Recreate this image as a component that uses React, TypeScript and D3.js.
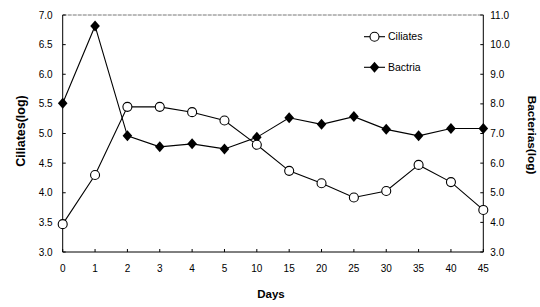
import React from "react";
import * as d3 from "d3";

const days = ["0", "1", "2", "3", "4", "5", "10", "15", "20", "25", "30", "35", "40", "45"];
const ciliates = [3.47, 4.3, 5.45, 5.45, 5.36, 5.22, 4.81, 4.37, 4.16, 3.92, 4.03, 4.47, 4.18, 3.71];
const bacteria = [8.02, 10.63, 6.92, 6.55, 6.65, 6.48, 6.87, 7.53, 7.31, 7.57, 7.14, 6.92, 7.17, 7.17];
const leftTicks = [3.0, 3.5, 4.0, 4.5, 5.0, 5.5, 6.0, 6.5, 7.0];
const rightTicks = [3.0, 4.0, 5.0, 6.0, 7.0, 8.0, 9.0, 10.0, 11.0];

const W = 540, H = 307;
const L = 62.7, R = 483.3, T = 15, B = 252;
const font = "'Liberation Sans', Arial, sans-serif";

export default function App() {
  const x = d3.scalePoint<string>().domain(days).range([L, R]).padding(0);
  const yL = d3.scaleLinear().domain([3, 7]).range([B, T]);
  const yR = d3.scaleLinear().domain([3, 11]).range([B, T]);
  const lineC = d3.line<number>().x((_, i) => x(days[i])!).y((d) => yL(d));
  const lineB = d3.line<number>().x((_, i) => x(days[i])!).y((d) => yR(d));
  const diamond = (cx: number, cy: number) =>
    `M${cx},${cy - 5.5}L${cx + 4.8},${cy}L${cx},${cy + 5.5}L${cx - 4.8},${cy}Z`;

  return (
    <svg width={W} height={H} style={{ position: "absolute", left: 0, top: 0, background: "#fff" }} fontFamily={font}>
      <rect x={0} y={0} width={W} height={H} fill="#fff" />
      {/* frame */}
      <line x1={L} y1={T} x2={R} y2={T} stroke="#777" strokeWidth={1} strokeDasharray="4,1" />
      <line x1={L} y1={T} x2={L} y2={B} stroke="#000" strokeWidth={1} />
      <line x1={R} y1={T} x2={R} y2={B} stroke="#000" strokeWidth={1} />
      <line x1={L} y1={B} x2={R} y2={B} stroke="#000" strokeWidth={1} />
      {/* left ticks */}
      {leftTicks.map((t) => (
        <g key={"l" + t}>
          <line x1={L} x2={L + 3} y1={yL(t)} y2={yL(t)} stroke="#000" />
          <text x={L - 10} y={yL(t)} dy="0.35em" textAnchor="end" fontSize={10}>{t.toFixed(1)}</text>
        </g>
      ))}
      {/* right ticks */}
      {rightTicks.map((t) => (
        <g key={"r" + t}>
          <line x1={R - 3} x2={R} y1={yR(t)} y2={yR(t)} stroke="#000" />
          <text x={R + 7} y={yR(t)} dy="0.35em" textAnchor="start" fontSize={10}>{t.toFixed(1)}</text>
        </g>
      ))}
      {/* x ticks */}
      {days.map((d) => (
        <g key={"x" + d}>
          <line x1={x(d)!} x2={x(d)!} y1={B} y2={B - 3} stroke="#000" />
          <text x={x(d)!} y={B + 20} textAnchor="middle" fontSize={10}>{d}</text>
        </g>
      ))}
      {/* lines */}
      <path d={lineC(ciliates)!} fill="none" stroke="#000" strokeWidth={1.1} />
      <path d={lineB(bacteria)!} fill="none" stroke="#000" strokeWidth={1.1} />
      {bacteria.map((v, i) => (
        <path key={"b" + i} d={diamond(x(days[i])!, yR(v))} fill="#000" />
      ))}
      {ciliates.map((v, i) => (
        <circle key={"c" + i} cx={x(days[i])!} cy={yL(v)} r={4.5} fill="#fff" stroke="#000" strokeWidth={1.1} />
      ))}
      {/* legend */}
      <line x1={364} x2={385} y1={36.7} y2={36.7} stroke="#000" strokeWidth={1.1} />
      <circle cx={374.5} cy={36.7} r={4.5} fill="#fff" stroke="#000" strokeWidth={1.1} />
      <text x={388} y={36.7} dy="0.35em" fontSize={10.5}>Ciliates</text>
      <line x1={364} x2={385} y1={67.3} y2={67.3} stroke="#000" strokeWidth={1.1} />
      <path d={diamond(374.5, 67.3)} fill="#000" />
      <text x={388} y={67.3} dy="0.35em" fontSize={10.5}>Bactria</text>
      {/* axis titles */}
      <text transform={`translate(21,131) rotate(-90)`} textAnchor="middle" dy="0.35em" fontSize={12.5} fontWeight="bold">Ciliates(log)</text>
      <text transform={`translate(532,135) rotate(90)`} textAnchor="middle" dy="0.35em" fontSize={11.8} fontWeight="bold">Bacterias(log)</text>
      <text x={271} y={298} textAnchor="middle" fontSize={11.5} fontWeight="bold">Days</text>
    </svg>
  );
}
